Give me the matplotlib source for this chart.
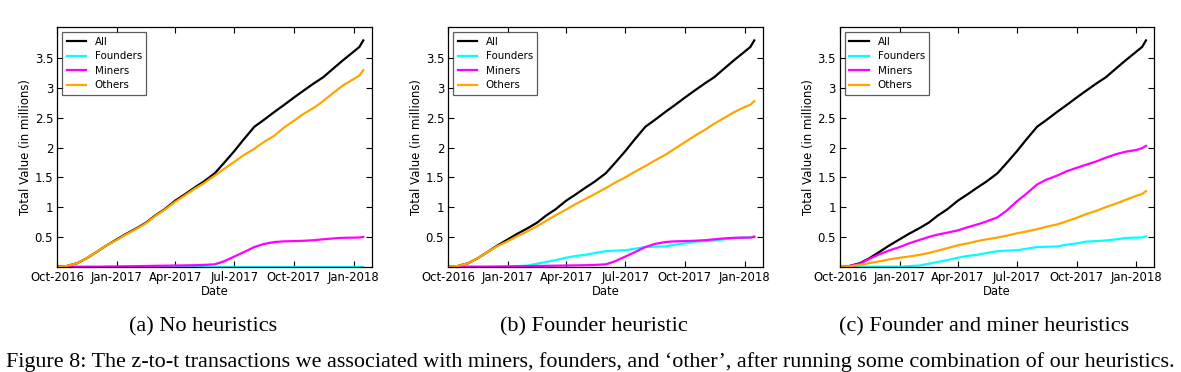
import matplotlib
matplotlib.use("Agg")
import matplotlib.pyplot as plt
import matplotlib.dates as mdates
import numpy as np
import datetime as dt

dates = ["2016-10-01", "2016-10-15", "2016-11-01", "2016-11-15", "2016-12-01", "2016-12-15",
         "2017-01-01", "2017-01-15", "2017-02-01", "2017-02-15", "2017-03-01", "2017-03-15",
         "2017-04-01", "2017-04-15", "2017-05-01", "2017-05-15", "2017-06-01", "2017-06-15",
         "2017-07-01", "2017-07-15", "2017-08-01", "2017-08-15", "2017-09-01", "2017-09-15",
         "2017-10-01", "2017-10-15", "2017-11-01", "2017-11-15", "2017-12-01", "2017-12-15",
         "2018-01-01", "2018-01-10", "2018-01-16"]

all_vals = [0.0, 0.01, 0.06, 0.14, 0.25, 0.35, 0.46, 0.55, 0.65, 0.74, 0.86, 0.96,
            1.11, 1.21, 1.33, 1.43, 1.57, 1.74, 1.94, 2.13, 2.35, 2.46, 2.60, 2.71,
            2.84, 2.95, 3.08, 3.18, 3.33, 3.46, 3.61, 3.69, 3.80]

# (a) No heuristics
founders_a = [0.0] * 33
miners_a = [0, 0, 0, 0, 0, 0.002, 0.005, 0.007, 0.01, 0.012, 0.015, 0.017,
            0.02, 0.022, 0.025, 0.03, 0.04, 0.09, 0.17, 0.24, 0.33, 0.38, 0.415, 0.425,
            0.43, 0.435, 0.445, 0.46, 0.475, 0.485, 0.488, 0.49, 0.50]
others_a = [0, 0.01, 0.06, 0.14, 0.25, 0.35, 0.45, 0.54, 0.64, 0.73, 0.85, 0.95,
            1.09, 1.19, 1.31, 1.40, 1.53, 1.64, 1.76, 1.87, 1.98, 2.09, 2.20, 2.33,
            2.45, 2.56, 2.67, 2.78, 2.92, 3.04, 3.15, 3.21, 3.30]

# (b) Founder heuristic
founders_b = [0, 0, 0, 0, 0, 0, 0.0, 0.01, 0.02, 0.05, 0.08, 0.11,
              0.15, 0.18, 0.20, 0.23, 0.26, 0.27, 0.275, 0.30, 0.33, 0.335, 0.34, 0.37,
              0.39, 0.42, 0.43, 0.44, 0.46, 0.48, 0.49, 0.49, 0.51]
miners_b = miners_a
others_b = [0, 0.01, 0.06, 0.14, 0.25, 0.34, 0.43, 0.51, 0.60, 0.68, 0.77, 0.86,
            0.96, 1.05, 1.14, 1.22, 1.32, 1.41, 1.50, 1.59, 1.69, 1.78, 1.88, 1.98,
            2.09, 2.19, 2.30, 2.40, 2.50, 2.59, 2.68, 2.72, 2.78]

# (c) Founder and miner heuristics
founders_c = founders_b
miners_c = [0, 0.01, 0.05, 0.13, 0.21, 0.27, 0.33, 0.39, 0.45, 0.50, 0.54, 0.57,
            0.61, 0.66, 0.71, 0.76, 0.83, 0.94, 1.10, 1.22, 1.38, 1.46, 1.53, 1.60,
            1.66, 1.71, 1.77, 1.83, 1.89, 1.93, 1.96, 1.99, 2.03]
others_c = [0, 0.005, 0.03, 0.06, 0.09, 0.12, 0.15, 0.17, 0.20, 0.23, 0.27, 0.31,
            0.36, 0.39, 0.43, 0.46, 0.49, 0.52, 0.56, 0.59, 0.63, 0.67, 0.71, 0.76,
            0.82, 0.88, 0.94, 1.00, 1.06, 1.12, 1.19, 1.22, 1.27]

series_names = ["All", "Founders", "Miners", "Others"]
series_colors = ["black", "#00FFFF", "#FF00FF", "#FFA500"]
subcaptions = ["(a) No heuristics", "(b) Founder heuristic", "(c) Founder and miner heuristics"]
caption = ("Figure 8: The z-to-t transactions we associated with miners, founders, and \u2018other\u2019, "
           "after running some combination of our heuristics.")
yticks = [0.5, 1, 1.5, 2, 2.5, 3, 3.5]
ytick_labels = ["0.5", "1", "1.5", "2", "2.5", "3", "3.5"]
xtick_dates = ["2016-10-01", "2017-01-01", "2017-04-01", "2017-07-01", "2017-10-01", "2018-01-01"]

panels = [
    (all_vals, founders_a, miners_a, others_a),
    (all_vals, founders_b, miners_b, others_b),
    (all_vals, founders_c, miners_c, others_c),
]

x = [dt.datetime.strptime(d, "%Y-%m-%d") for d in dates]
xt = [dt.datetime.strptime(d, "%Y-%m-%d") for d in xtick_dates]

W, H = 1181, 372
fig = plt.figure(figsize=(W / 100, H / 100), dpi=100)
fig.patch.set_facecolor("white")

lefts = [57.3, 448.3, 840.0]
ax_w = 314.4
ax_top = 27.3
ax_bot = 266.7
sub_x = [203, 594, 984]

for i, data in enumerate(panels):
    ax = fig.add_axes([lefts[i] / W, 1 - ax_bot / H, ax_w / W, (ax_bot - ax_top) / H])
    for vals, name, col in zip(data, series_names, series_colors):
        ax.plot(x, vals, color=col, lw=1.6, label=name)
    ax.set_xlim(dt.datetime(2016, 10, 1), dt.datetime(2018, 1, 29))
    ax.set_ylim(0, 4.02)
    ax.set_yticks(yticks)
    ax.set_yticklabels(ytick_labels)
    ax.set_xticks(xt)
    ax.xaxis.set_major_formatter(mdates.DateFormatter("%b-%Y"))
    ax.tick_params(direction="in", top=True, right=True, length=4, width=0.8,
                   labelsize=8.4, pad=3)
    for s in ax.spines.values():
        s.set_linewidth(0.9)
    ax.set_xlabel("Date", fontsize=8.4, labelpad=1)
    ax.set_ylabel("Total Value (in millions)", fontsize=8.4, labelpad=1.5)
    leg = ax.legend(loc="upper left", fontsize=7.4, frameon=True, fancybox=False,
                    handlelength=1.9, borderpad=0.4, labelspacing=0.45,
                    handletextpad=0.85, borderaxespad=0.5)
    leg.get_frame().set_edgecolor("#333333")
    leg.get_frame().set_linewidth(0.9)
    fig.text(sub_x[i] / W, 1 - 327 / H, subcaptions[i], ha="center", va="center",
             fontsize=16, family="Liberation Serif")

fig.text(0.5 - 0.5 / W, 1 - 362 / H, caption, ha="center", va="center",
         fontsize=15.9, family="Liberation Serif")

fig.savefig("out.png", dpi=100, facecolor="white")
